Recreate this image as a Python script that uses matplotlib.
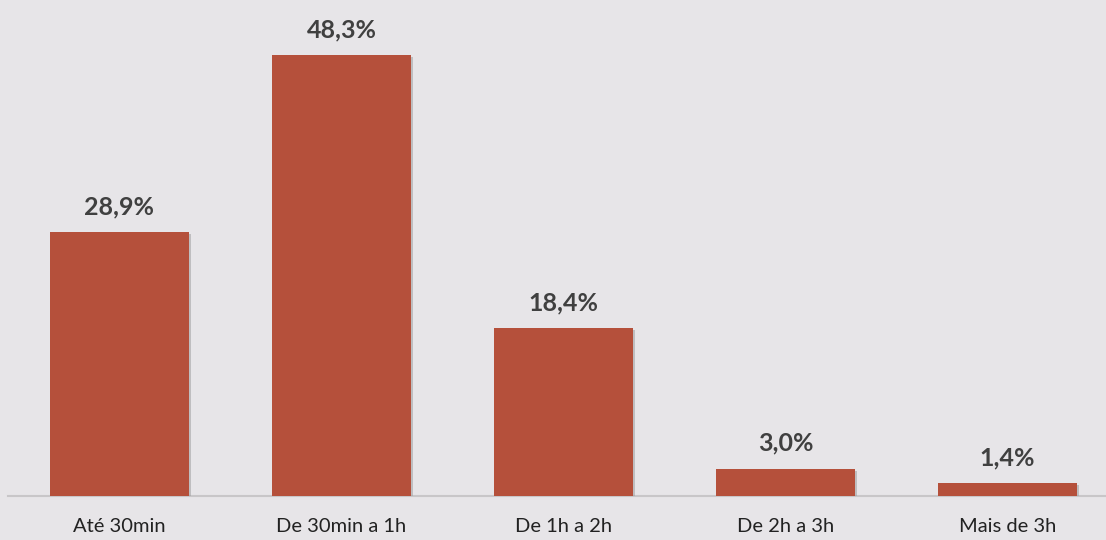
import matplotlib
matplotlib.use("Agg")
import matplotlib.pyplot as plt
import matplotlib.patheffects as pe

# dados do gráfico
categorias = ["Até 30min", "De 30min a 1h", "De 1h a 2h", "De 2h a 3h", "Mais de 3h"]
valores = [28.9, 48.3, 18.4, 3.0, 1.4]
rotulos = ["28,9%", "48,3%", "18,4%", "3,0%", "1,4%"]

fundo = "#E7E5E8"
cor_barra = "#B5503B"
cor_texto = "#404040"

plt.rcParams["font.family"] = ["Lato", "DejaVu Sans"]

fig = plt.figure(figsize=(11.06, 5.40), dpi=100, facecolor=fundo)
ax = fig.add_axes([8 / 1106, 44 / 540, 1 - 8 / 1106, 496 / 540])
ax.set_facecolor(fundo)

x = range(len(categorias))
barras = ax.bar(x, valores, width=0.626, color=cor_barra, zorder=3)
for b in barras:
    b.set_path_effects([pe.SimplePatchShadow(offset=(1.5, -1.5), shadow_rgbFace="#999999", alpha=0.5), pe.Normal()])

for xi, v, r in zip(x, valores, rotulos):
    ax.text(xi, v + 1.5, r, ha="center", va="bottom", fontsize=18, fontweight="bold", color=cor_texto)

ax.set_xlim(-0.502, 4.444)
ax.set_ylim(0, 54.3)
ax.set_xticks(list(x))
ax.set_xticklabels(categorias, fontsize=14.5, color="#222222")
ax.tick_params(axis="x", length=0, pad=16)
ax.set_yticks([])
for s in ["top", "right", "left"]:
    ax.spines[s].set_visible(False)
ax.spines["bottom"].set_color("#C8C6C8")
ax.spines["bottom"].set_linewidth(1.5)

fig.savefig("out.png", dpi=100, facecolor=fundo)
